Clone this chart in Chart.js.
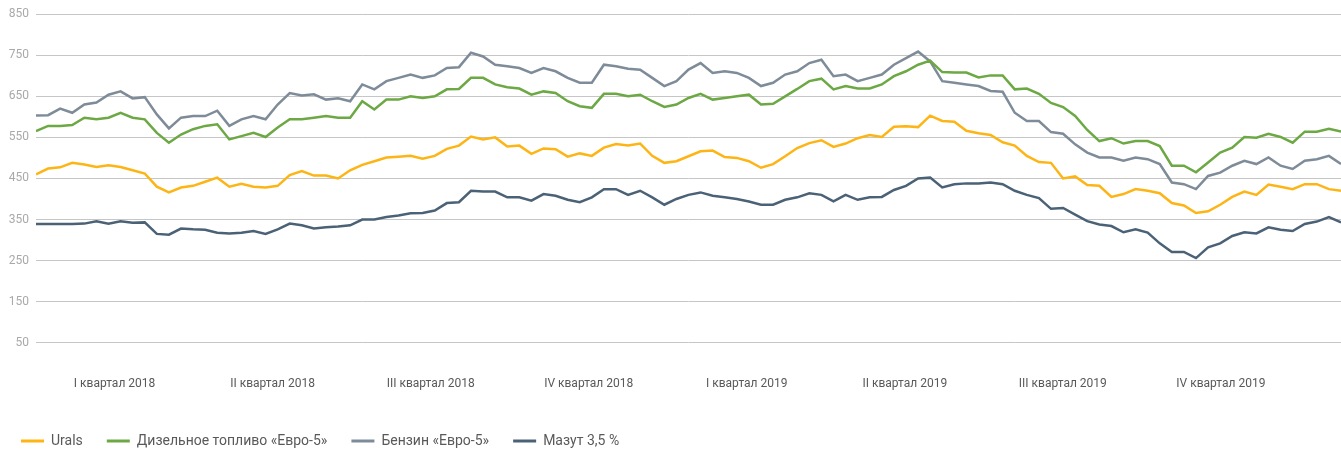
<!DOCTYPE html>
<html><head><meta charset="utf-8">
<script src="https://cdn.jsdelivr.net/npm/chart.js@4.4.1/dist/chart.umd.min.js"></script>
<style>html,body{margin:0;padding:0;background:#fff;}#wrap{width:1341px;height:452px;position:relative;}</style>
</head><body><div id="wrap"><canvas id="c" width="1341" height="452"></canvas></div>
<script>
const quarterLabels = ['I квартал 2018','II квартал 2018','III квартал 2018','IV квартал 2018','I квартал 2019','II квартал 2019','III квартал 2019','IV квартал 2019'];
const seriesNames = ['Urals','Дизельное топливо «Евро-5»','Бензин «Евро-5»','Мазут 3,5 %'];
const yTicks = [50,150,250,350,450,550,650,750,850];

const urals = [460,474,477,488,484,478,482,478,470,462, 430,416,428,432,442,452,430,437,430,428, 432,458,468,457,457,
  450,470,483,492,501,503,505,498,505,522, 530,552,545,550,528,530,510,523,521,503, 511,505,525,534,530,535,505,488,
  492,504,516,518,502,500,492,476,485,504, 524,536,543,527,535,548,556,551,576,577, 575,603,590,588,566,560,556,
  538,530,505,490,488,450,455,434,432,405, 412,424,420,414,390,384,366,370,386,405, 418,410,435,430,424,436,436,424,420];
const diesel = [565,578,578,580,598,594,598,610,598,594, 561,537,557,570,578,582,545,553,561,551, 574,594,594,598,602,
  598,598,638,618,642,642,650,646,650,667, 668,695,695,679,672,669,654,662,658,638, 626,622,656,656,650,654,638,624,
  630,646,656,642,646,650,654,630,632,650, 668,687,693,667,675,669,669,679,699,711, 727,737,709,708,708,696,701,
  701,667,669,656,634,624,602,568,541,548, 535,541,541,529,481,481,465,489,513,525, 551,549,559,551,537,564,564,571,564];
const benzin = [603,604,620,610,630,635,654,662,645,648, 606,572,598,602,602,615,578,594,602,594, 630,658,652,655,642,
  645,638,679,667,687,695,703,695,701,719, 721,756,747,727,723,719,707,719,711,695, 683,683,727,723,717,715,695,675,
  687,715,731,707,711,707,695,675,683,703, 711,731,739,699,703,687,695,703,727,743, 759,735,687,683,679,675,663,
  661,610,590,590,563,559,533,513,501,501, 493,501,497,485,440,436,424,456,464,481, 493,485,501,481,473,493,497,505,485];
const mazut = [339,339,339,339,340,346,340,346,342,343, 315,313,328,326,325,318,316,318,322,315, 326,340,336,328,331,
  333,336,350,350,356,360,365,366,372,390, 392,420,418,418,404,404,396,412,408,398, 392,404,424,424,410,420,404,386,
  400,410,416,408,404,400,394,386,386,398, 404,414,410,394,410,398,404,405,422,432, 450,452,428,436,438,438,440,
  436,420,410,402,376,378,362,346,338,334, 319,326,318,292,271,271,256,282,292,310, 319,316,331,325,322,339,345,356,343];

const colors = ['#FDB515','#6CA843','#7E8B98','#4B6176'];
const seriesValues = [urals, diesel, benzin, mazut];

const toPoints = arr => arr.map((v, i) => ({x: i, y: v}));
const lastIndex = urals.length - 1;
const quarterWidth = 13.08;
const quarterTicks = quarterLabels.map((_, k) => 6.5 + quarterWidth * k);

const legendPlace = {
  id: 'legendPlace',
  afterLayout(chart) {
    const lg = chart.legend;
    if (!lg) return;
    lg.left = -3;
    lg.top = 441 - 24 - 7;
  }
};

new Chart(document.getElementById('c'), {
  type: 'line',
  data: {
    datasets: seriesValues.map((arr, k) => ({
      label: seriesNames[k],
      data: toPoints(arr),
      borderColor: colors[k],
      backgroundColor: colors[k],
      borderWidth: 2.5,
      pointRadius: 0,
      pointHoverRadius: 0,
      tension: 0,
      fill: false
    }))
  },
  options: {
    responsive: false,
    animation: false,
    devicePixelRatio: 1,
    layout: {padding: {top: 12.7, right: 0, left: 0, bottom: 0}},
    plugins: {
      tooltip: {enabled: false},
      legend: {
        position: 'bottom',
        align: 'start',
        labels: {
          boxWidth: 23,
          boxHeight: 3,
          padding: 24,
          color: '#595959',
          font: {family: 'Roboto', size: 14},
          generateLabels(chart) {
            return chart.data.datasets.map((ds, i) => ({
              text: ds.label,
              fillStyle: ds.borderColor,
              strokeStyle: ds.borderColor,
              lineWidth: 0,
              fontColor: '#595959',
              hidden: false,
              datasetIndex: i
            }));
          }
        }
      }
    },
    scales: {
      x: {
        type: 'linear',
        min: 0,
        max: lastIndex,
        grid: {display: false},
        border: {display: false},
        afterBuildTicks(scale) { scale.ticks = quarterTicks.map(v => ({value: v})); },
        afterFit(scale) { scale.height = scale.chart.height - 342.7 - (scale.chart.legend ? scale.chart.legend.height : 0); },
        ticks: {
          autoSkip: false,
          maxRotation: 0,
          padding: 26,
          color: '#595959',
          font: {family: 'Roboto', size: 12},
          callback(value, index) { return quarterLabels[index]; }
        }
      },
      y: {
        min: 50,
        max: 850,
        afterBuildTicks(scale) { scale.ticks = yTicks.map(v => ({value: v})); },
        afterFit(scale) { scale.width = 36; },
        grid: {color: '#c6c6c6', lineWidth: 1, drawTicks: false},
        border: {display: false},
        ticks: {
          padding: 7,
          color: '#a9a9a9',
          font: {family: 'Roboto', size: 12}
        }
      }
    }
  },
  plugins: [legendPlace]
});
</script>
</body></html>
